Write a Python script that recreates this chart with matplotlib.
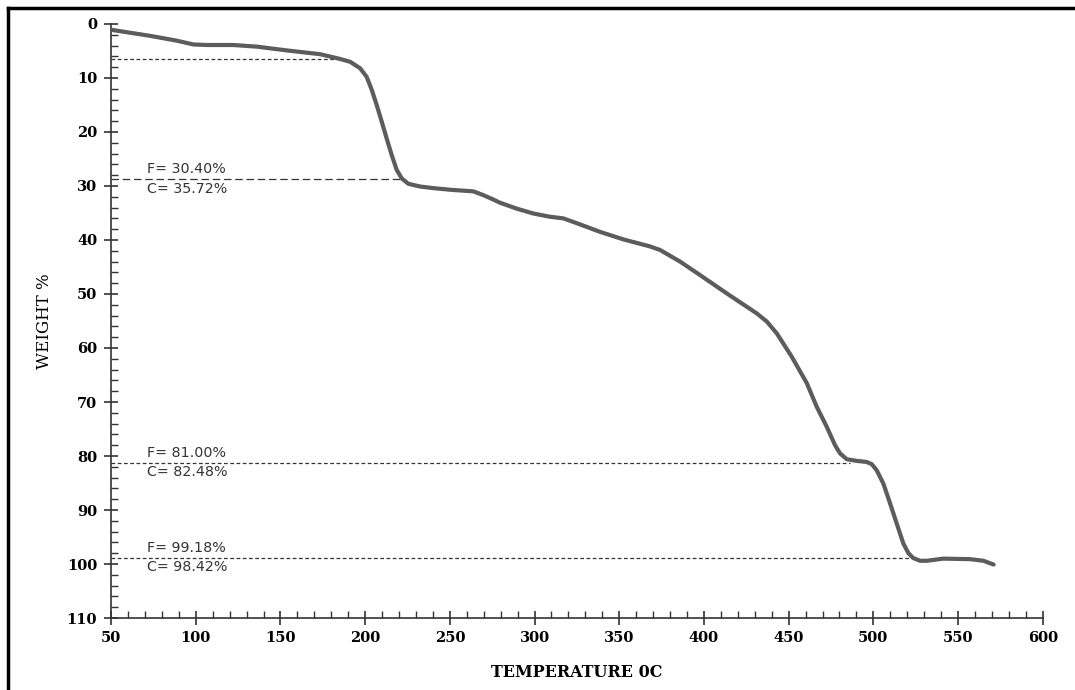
import matplotlib
matplotlib.use("Agg")
import matplotlib.pyplot as plt
from matplotlib.lines import Line2D
from matplotlib.ticker import MultipleLocator

# TGA curve
temp = [50.4, 73, 88.8, 98.6, 106.5, 122.2, 136, 153.7, 173.4, 184.2, 191.1,
        197.0, 200.9, 203.9, 206.8, 209.8, 212.7, 215.7, 218.6, 221.6, 225.5,
        232.4, 240.3, 250.1, 263.9, 269.8, 275.6, 279.6, 289.5, 299.3, 309.1,
        317, 325, 338.7, 352.5, 368.2, 374.1, 385.9, 397.7, 413.5, 431.2,
        437.1, 443, 451.8, 460.7, 466.6, 472.5, 477.4, 480.3, 484.3, 490.2,
        496, 499.0, 501.9, 505.9, 509.9, 513.8, 517.7, 520.7, 523.6, 527.6,
        531.5, 541.3, 557.1, 565, 571]
weight = [1.1, 2.2, 3.1, 3.8, 3.9, 3.9, 4.2, 4.9, 5.6, 6.4, 7.0,
          8.2, 9.8, 12.2, 15.0, 18.1, 21.2, 24.3, 27.0, 28.6, 29.6,
          30.1, 30.4, 30.7, 31.0, 31.7, 32.5, 33.1, 34.2, 35.1, 35.7,
          36.0, 36.9, 38.5, 39.9, 41.2, 41.85, 44.0, 46.5, 49.9, 53.6,
          55.1, 57.3, 61.6, 66.5, 70.9, 74.6, 78.0, 79.5, 80.6, 80.9,
          81.1, 81.5, 82.6, 85.1, 88.8, 92.5, 96.2, 98.0, 98.9, 99.4,
          99.4, 99.0, 99.1, 99.4, 100.1]

# reference lines: level, end temperature, dash style
step_level = [6.4, 28.8, 81.35, 98.9]
step_end = [184, 221.6, 486, 523]
step_dash = [(3, 2), (6, 3), (3, 2), (3, 2)]
label_top = [None, "F= 30.40%", "F= 81.00%", "F= 99.18%"]
label_bot = [None, "C= 35.72%", "C= 82.48%", "C= 98.42%"]

fig = plt.figure(figsize=(10.75, 6.9), dpi=100)
ax = fig.add_axes([0.1033, 0.1043, 0.8667, 0.861])

ax.plot(temp, weight, color="#5c5c5c", lw=3, solid_capstyle="round",
        solid_joinstyle="round", zorder=3)

for lvl, end, ds, tt, tb in zip(step_level, step_end, step_dash, label_top, label_bot):
    ax.plot([50, end], [lvl, lvl], color="#333333", lw=0.9, dashes=ds, zorder=2)
    if tt:
        ax.text(71, lvl - 1.9, tt, fontsize=10.3, color="#333333",
                family="DejaVu Sans", va="center", ha="left")
        ax.text(71, lvl + 1.7, tb, fontsize=10.3, color="#333333",
                family="DejaVu Sans", va="center", ha="left")

ax.set_xlim(50, 600)
ax.set_ylim(110, 0)
ax.xaxis.set_major_locator(MultipleLocator(50))
ax.xaxis.set_minor_locator(MultipleLocator(10))
ax.yaxis.set_major_locator(MultipleLocator(10))
ax.yaxis.set_minor_locator(MultipleLocator(2))

for s in ["top", "right"]:
    ax.spines[s].set_visible(False)
for s in ["left", "bottom"]:
    ax.spines[s].set_color("#333333")
    ax.spines[s].set_linewidth(1.2)

ax.tick_params(which="major", direction="inout", length=10, width=1.2, color="#333333")
ax.tick_params(which="minor", direction="in", length=5, width=1.0, color="#333333")
ax.tick_params(axis="x", pad=4)
ax.tick_params(axis="y", pad=5)
for lab in ax.get_xticklabels() + ax.get_yticklabels():
    lab.set_family("DejaVu Serif")
    lab.set_fontweight("bold")
    lab.set_fontsize(10.5)

ax.set_xlabel("TEMPERATURE 0C", family="DejaVu Serif", fontweight="bold",
              fontsize=11.5, labelpad=14)
ax.set_ylabel("WEIGHT %", family="DejaVu Serif", fontsize=12, labelpad=10)

# outer frame (top and left edges)
fig.add_artist(Line2D([0.0074, 1.0], [0.988, 0.988], transform=fig.transFigure,
                      color="black", lw=2.5))
fig.add_artist(Line2D([0.0074, 0.0074], [0.0, 0.988], transform=fig.transFigure,
                      color="black", lw=2.5))

fig.savefig("out.png", dpi=100)
